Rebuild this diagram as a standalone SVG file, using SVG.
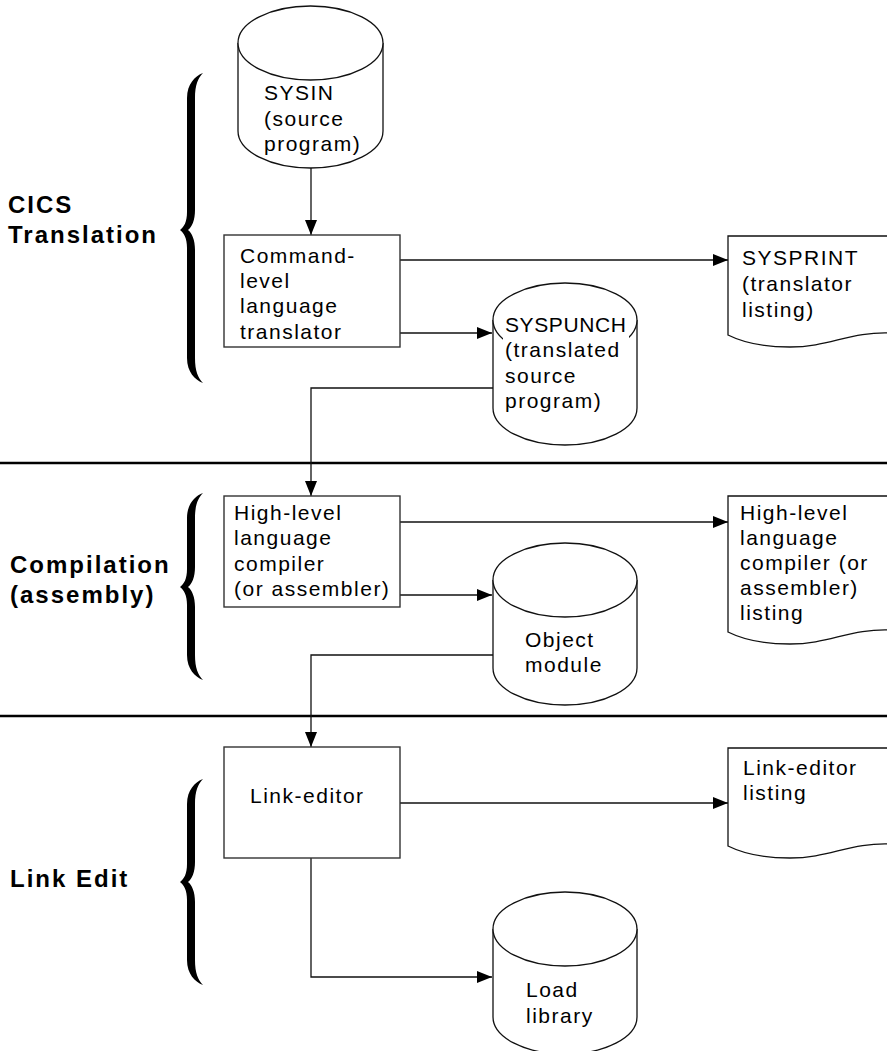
<svg xmlns="http://www.w3.org/2000/svg" width="887" height="1051" viewBox="0 0 887 1051">
<style>
.t{font-family:"Liberation Sans",Arial,Helvetica,sans-serif;font-size:21px;letter-spacing:1.5px;fill:#000}
.lbl{font-family:"Liberation Sans",Arial,Helvetica,sans-serif;font-size:24px;font-weight:bold;letter-spacing:2px;fill:#000}
.box{fill:#fff;stroke:#333;stroke-width:1.4}
.shape{fill:#fff;stroke:#111;stroke-width:1.3}
.con{fill:none;stroke:#111;stroke-width:1.3}
.sep{stroke:#000;stroke-width:2.6}
.brace{fill:#000}
</style>
<defs>
<marker id="arr" markerUnits="userSpaceOnUse" markerWidth="15" markerHeight="12" refX="15" refY="6" orient="auto">
<path d="M0,0 L15,6 L0,12 Z" fill="#000"/>
</marker>
</defs>
<rect width="887" height="1051" fill="#fff"/>

<g id="separators">
<line class="sep" x1="0" y1="463" x2="887" y2="463"/>
<line class="sep" x1="0" y1="716" x2="887" y2="716"/>
</g>

<g id="phase-cics">
<path class="brace" d="M203,73 C195,76 187,84 187,98 L187,212 C187,222 184,227 180,230 C184,233 187,238 187,248 L187,358 C187,372 195,380 203,383 C198,378 195,371 195,358 L195,250 C195,240 192,233 188,230 C192,227 195,220 195,210 L195,98 C195,85 198,78 203,73 Z"/>
<text class="lbl" x="8" y="213">CICS</text>
<text class="lbl" x="8" y="243">Translation</text>
</g>
<g id="phase-compilation">
<path class="brace" d="M203,493 C195,496 187,504 187,518 L187,569 C187,579 184,584 180,587 C184,590 187,595 187,605 L187,655 C187,669 195,677 203,680 C198,675 195,668 195,655 L195,607 C195,597 192,590 188,587 C192,584 195,577 195,567 L195,518 C195,505 198,498 203,493 Z"/>
<text class="lbl" x="10" y="573">Compilation</text>
<text class="lbl" x="10" y="603">(assembly)</text>
</g>
<g id="phase-linkedit">
<path class="brace" d="M203,779 C195,782 187,790 187,804 L187,864 C187,874 184,879 180,882 C184,885 187,890 187,900 L187,960 C187,974 195,982 203,985 C198,980 195,973 195,960 L195,902 C195,892 192,885 188,882 C192,879 195,872 195,862 L195,804 C195,791 198,784 203,779 Z"/>
<text class="lbl" x="10" y="887">Link Edit</text>
</g>

<g id="connectors">
<line class="con" x1="311" y1="168" x2="311" y2="235" marker-end="url(#arr)"/>
<line class="con" x1="400" y1="260" x2="728" y2="260" marker-end="url(#arr)"/>
<line class="con" x1="400" y1="333" x2="492" y2="333" marker-end="url(#arr)"/>
<polyline class="con" points="493,388 311,388 311,496" marker-end="url(#arr)"/>
<line class="con" x1="400" y1="522" x2="728" y2="522" marker-end="url(#arr)"/>
<line class="con" x1="400" y1="595" x2="492" y2="595" marker-end="url(#arr)"/>
<polyline class="con" points="493,655 311,655 311,747" marker-end="url(#arr)"/>
<line class="con" x1="400" y1="803" x2="728" y2="803" marker-end="url(#arr)"/>
<polyline class="con" points="311,858 311,977 492,977" marker-end="url(#arr)"/>
</g>

<g id="sysin">
<path class="shape" d="M238,43 V131 A72.5,37 0 0 0 383,131 V43"/>
<ellipse class="shape" cx="310.5" cy="43" rx="72.5" ry="37"/>
<text class="t" x="264" y="100">SYSIN</text>
<text class="t" x="264" y="126">(source</text>
<text class="t" x="264" y="151">program)</text>
</g>

<g id="translator">
<rect class="box" x="224" y="235" width="176" height="112"/>
<text class="t" x="240" y="263">Command-</text>
<text class="t" x="240" y="288">level</text>
<text class="t" x="240" y="313">language</text>
<text class="t" x="240" y="339">translator</text>
</g>

<g id="sysprint">
<path class="shape" d="M728,335 V236 H892 V333 C850,331 830,347 790,347 C760,347 742,342 728,335 Z"/>
<text class="t" x="742" y="265">SYSPRINT</text>
<text class="t" x="742" y="291">(translator</text>
<text class="t" x="742" y="317">listing)</text>
</g>

<g id="syspunch">
<path class="shape" d="M493,320 V408 A72,37 0 0 0 637,408 V320"/>
<ellipse class="shape" cx="565" cy="320" rx="72" ry="37"/>
<rect x="503" y="316" width="126" height="98" fill="#fff"/>
<text class="t" x="505" y="332" style="letter-spacing:0.6px">SYSPUNCH</text>
<text class="t" x="505" y="357">(translated</text>
<text class="t" x="505" y="383">source</text>
<text class="t" x="505" y="408">program)</text>
</g>

<g id="compiler">
<rect class="box" x="224" y="496" width="176" height="111"/>
<text class="t" x="234" y="520">High-level</text>
<text class="t" x="234" y="545">language</text>
<text class="t" x="234" y="571">compiler</text>
<text class="t" x="234" y="596">(or assembler)</text>
</g>

<g id="compiler-listing">
<path class="shape" d="M728,632 V496 H892 V630 C850,628 830,644 790,644 C760,644 742,639 728,632 Z"/>
<text class="t" x="740" y="520">High-level</text>
<text class="t" x="740" y="545">language</text>
<text class="t" x="740" y="570">compiler (or</text>
<text class="t" x="740" y="595">assembler)</text>
<text class="t" x="740" y="620">listing</text>
</g>

<g id="object-module">
<path class="shape" d="M493,580 V668 A72,37 0 0 0 637,668 V580"/>
<ellipse class="shape" cx="565" cy="580" rx="72" ry="37"/>
<text class="t" x="525" y="647">Object</text>
<text class="t" x="525" y="672">module</text>
</g>

<g id="link-editor">
<rect class="box" x="224" y="747" width="176" height="111"/>
<text class="t" x="250" y="803">Link-editor</text>
</g>

<g id="link-listing">
<path class="shape" d="M728,846 V748 H892 V844 C850,842 830,858 790,858 C760,858 742,853 728,846 Z"/>
<text class="t" x="743" y="775">Link-editor</text>
<text class="t" x="743" y="800">listing</text>
</g>

<g id="load-library">
<path class="shape" d="M493,929 V1017 A72,37 0 0 0 637,1017 V929"/>
<ellipse class="shape" cx="565" cy="929" rx="72" ry="37"/>
<text class="t" x="526" y="997">Load</text>
<text class="t" x="526" y="1023">library</text>
</g>
</svg>
